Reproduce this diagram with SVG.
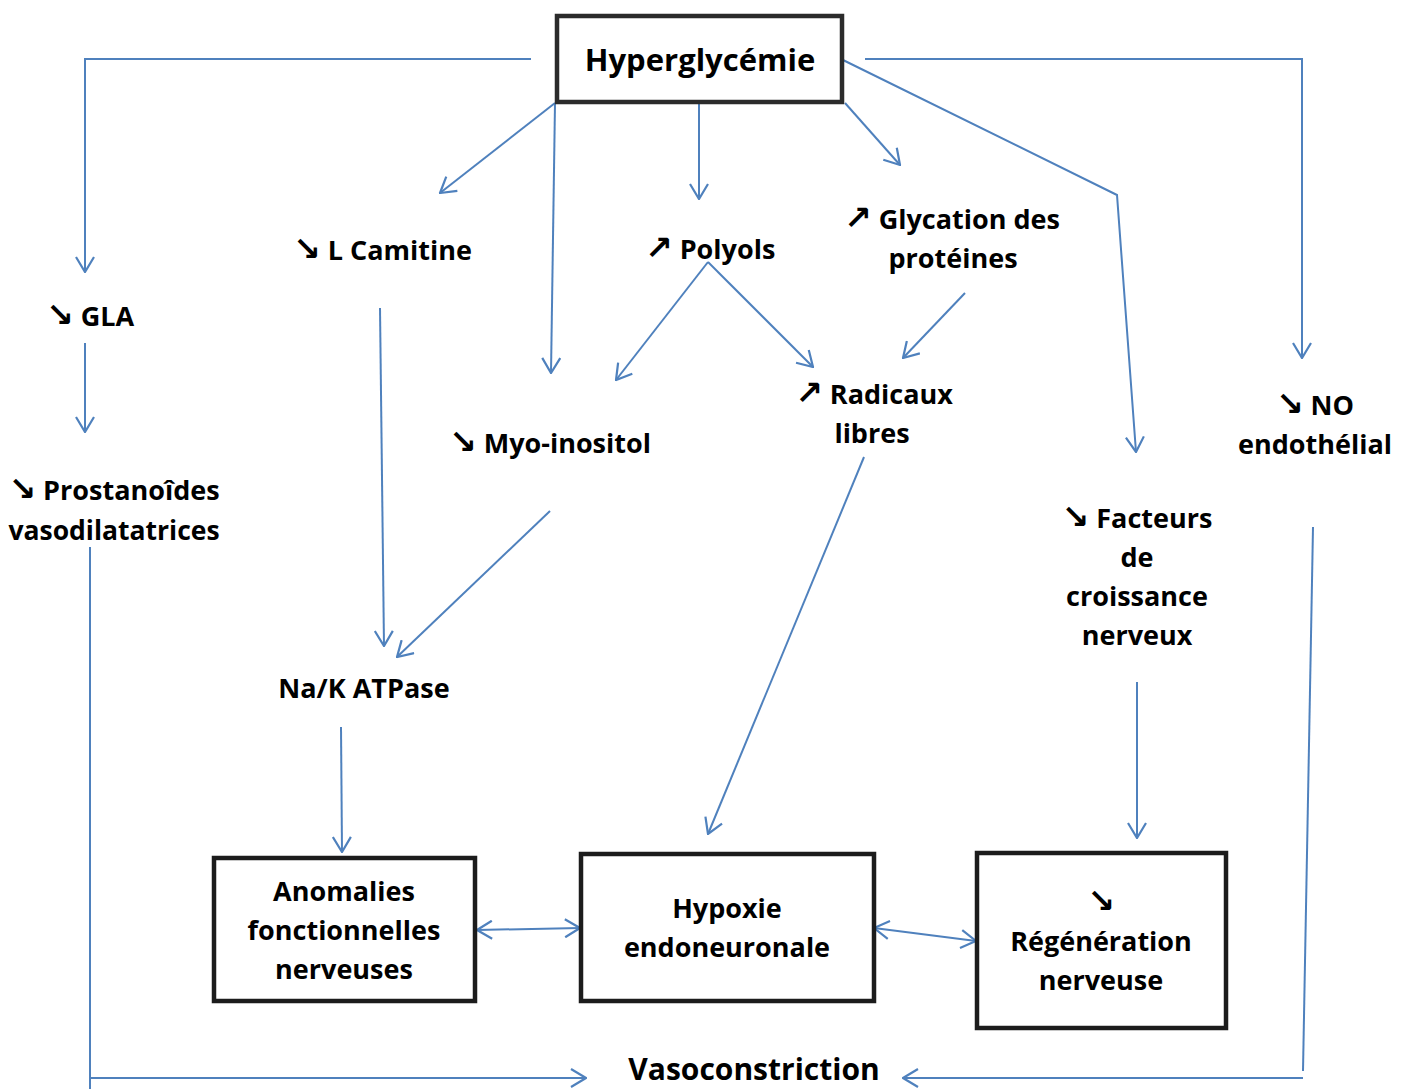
<svg xmlns="http://www.w3.org/2000/svg" width="1406" height="1089" viewBox="0 0 1406 1089">
  <style>
    .lbl { font-family: "Open Sans", "DejaVu Sans", sans-serif; font-weight: bold; font-size: 27px; fill: #000; }
    .mid { text-anchor: middle; }
    .sym { font-family: "DejaVu Sans", sans-serif; font-size: 33px; font-weight: bold; }
    .box { fill: #fff; stroke: #1c1c1c; stroke-width: 4.5; }
    .edge { fill: none; stroke: #4f81bd; stroke-width: 2; }
    .arr { marker-end: url(#chev); }
    .dbl { marker-start: url(#chev); marker-end: url(#chev); }
  </style>
  <defs>
    <marker id="chev" viewBox="0 0 17 20" refX="16" refY="10" markerWidth="17" markerHeight="20" markerUnits="userSpaceOnUse" orient="auto-start-reverse">
      <path d="M1,1 L16,10 L1,19" fill="none" stroke="#4f81bd" stroke-width="2.2"/>
    </marker>
  </defs>

  <rect width="1406" height="1089" fill="#fff"/>

  <!-- connectors -->
  <g id="connectors">
    <polyline class="edge arr" points="531,59 85,59 85,272"/>
    <line class="edge arr" x1="555" y1="103" x2="440" y2="193"/>
    <line class="edge arr" x1="555" y1="103" x2="551" y2="373"/>
    <line class="edge arr" x1="699" y1="104" x2="699" y2="199"/>
    <line class="edge arr" x1="845" y1="103" x2="900" y2="165"/>
    <polyline class="edge arr" points="843,60 1117,195 1136,452"/>
    <polyline class="edge arr" points="865,59 1302,59 1302,358"/>
    <line class="edge arr" x1="85" y1="343" x2="85" y2="432"/>
    <line class="edge arr" x1="380" y1="308" x2="384" y2="646"/>
    <line class="edge arr" x1="708" y1="262" x2="616" y2="380"/>
    <line class="edge arr" x1="708" y1="262" x2="813" y2="367"/>
    <line class="edge arr" x1="965" y1="293" x2="903" y2="358"/>
    <line class="edge arr" x1="550" y1="511" x2="397" y2="657"/>
    <line class="edge arr" x1="864" y1="457" x2="708" y2="834"/>
    <line class="edge arr" x1="341" y1="727" x2="342" y2="852"/>
    <line class="edge arr" x1="1137" y1="682" x2="1137" y2="838"/>
    <line class="edge dbl" x1="477" y1="930" x2="580" y2="928"/>
    <line class="edge dbl" x1="874" y1="928" x2="976" y2="941"/>
    <line class="edge" x1="90" y1="547" x2="90" y2="1089"/>
    <line class="edge arr" x1="90" y1="1078" x2="586" y2="1078"/>
    <line class="edge" x1="1313" y1="527" x2="1303" y2="1071"/>
    <line class="edge arr" x1="1303" y1="1078" x2="903" y2="1078"/>
  </g>

  <!-- nodes -->
  <g id="hyperglycemie">
    <rect x="557" y="16" width="285" height="86" fill="#fff" stroke="#2b2b2b" stroke-width="4.5"/>
    <text class="lbl mid" x="700" y="71" style="font-size:31px">Hyperglycémie</text>
  </g>
  <g id="gla">
    <text class="lbl" x="46" y="326"><tspan class="sym">↘</tspan> GLA</text>
  </g>
  <g id="camitine">
    <text class="lbl" x="293" y="260"><tspan class="sym">↘</tspan> L Camitine</text>
  </g>
  <g id="polyols">
    <text class="lbl" x="645" y="259"><tspan class="sym">↗</tspan> Polyols</text>
  </g>
  <g id="glycation">
    <text class="lbl mid" x="952" y="229"><tspan class="sym">↗</tspan> Glycation des</text>
    <text class="lbl mid" x="953" y="268">protéines</text>
  </g>
  <g id="myo-inositol">
    <text class="lbl" x="449" y="453"><tspan class="sym">↘</tspan> Myo-inositol</text>
  </g>
  <g id="radicaux">
    <text class="lbl mid" x="874" y="404"><tspan class="sym">↗</tspan> Radicaux</text>
    <text class="lbl mid" x="872" y="443">libres</text>
  </g>
  <g id="no-endothelial">
    <text class="lbl mid" x="1315" y="415"><tspan class="sym">↘</tspan> NO</text>
    <text class="lbl mid" x="1315" y="454">endothélial</text>
  </g>
  <g id="facteurs">
    <text class="lbl mid" x="1137" y="528"><tspan class="sym">↘</tspan> Facteurs</text>
    <text class="lbl mid" x="1137" y="567">de</text>
    <text class="lbl mid" x="1137" y="606">croissance</text>
    <text class="lbl mid" x="1137" y="645">nerveux</text>
  </g>
  <g id="prostanoides">
    <text class="lbl mid" x="114" y="500"><tspan class="sym">↘</tspan> Prostanoîdes</text>
    <text class="lbl mid" x="114" y="540" style="font-size:26.5px">vasodilatatrices</text>
  </g>
  <g id="na-k-atpase">
    <text class="lbl mid" x="364" y="698">Na/K ATPase</text>
  </g>
  <g id="anomalies">
    <rect class="box" x="214" y="858" width="261" height="143"/>
    <text class="lbl mid" x="344" y="901">Anomalies</text>
    <text class="lbl mid" x="344" y="940">fonctionnelles</text>
    <text class="lbl mid" x="344" y="979">nerveuses</text>
  </g>
  <g id="hypoxie">
    <rect class="box" x="581" y="854" width="293" height="147"/>
    <text class="lbl mid" x="727" y="918">Hypoxie</text>
    <text class="lbl mid" x="727" y="957">endoneuronale</text>
  </g>
  <g id="regeneration">
    <rect class="box" x="977" y="853" width="249" height="175"/>
    <text class="lbl mid" x="1101" y="912"><tspan class="sym">↘</tspan></text>
    <text class="lbl mid" x="1101" y="951">Régénération</text>
    <text class="lbl mid" x="1101" y="990">nerveuse</text>
  </g>
  <g id="vasoconstriction">
    <text class="lbl mid" x="754" y="1080" style="font-size:30px">Vasoconstriction</text>
  </g>
</svg>
